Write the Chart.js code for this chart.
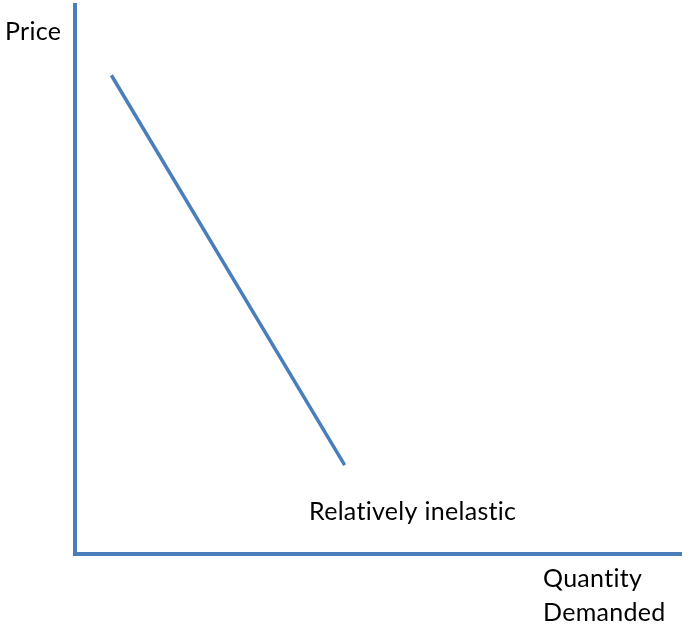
<!DOCTYPE html>
<html>
<head>
<meta charset="utf-8">
<script src="https://cdn.jsdelivr.net/npm/chart.js@4/dist/chart.umd.min.js"></script>
<style>
  html, body { margin: 0; padding: 0; background: #fff; }
  #wrap { width: 694px; height: 630px; }
</style>
</head>
<body>
<div id="wrap"><canvas id="demandChart" width="694" height="630"></canvas></div>
<script>
// demand curve end points (quantity, price) on a 0-10 scale
const quantity = [0.6, 4.45];
const price = [8.72, 1.62];
const curveLabel = "Relatively inelastic";
const yTitle = "Price";
const xTitle = ["Quantity", "Demanded"];

const blue = "#4a7ebb";
const font = "25px Lato, 'Open Sans', sans-serif";

// loose text labels placed like in the slide
const textLabels = {
    id: "textLabels",
    afterDraw(chart) {
        const ctx = chart.ctx;
        ctx.save();
        ctx.font = font;
        ctx.letterSpacing = "0.3px"; // no "ti" ligature
        ctx.fillStyle = "#000";
        ctx.textBaseline = "alphabetic";
        ctx.fillText(yTitle, 5, 40);
        ctx.fillText(curveLabel, 309, 520);
        ctx.fillText(xTitle[0], 543, 587);
        ctx.fillText(xTitle[1], 543, 621);
        ctx.restore();
    },
};

const ctx = document.getElementById("demandChart").getContext("2d");
new Chart(ctx, {
    type: "scatter",
    data: {
        datasets: [
            {
                label: curveLabel,
                data: quantity.map((q, i) => ({ x: q, y: price[i] })),
                showLine: true,
                borderColor: blue,
                borderWidth: 3.5,
                pointRadius: 0,
            },
        ],
    },
    options: {
        responsive: false,
        animation: false,
        layout: { padding: { left: 75, top: 5, right: 13, bottom: 76 } },
        plugins: { legend: { display: false }, tooltip: { enabled: false } },
        scales: {
            x: {
                min: 0,
                max: 10,
                ticks: { display: false },
                grid: { display: false, drawTicks: false },
                border: { display: true, color: blue, width: 4 },
            },
            y: {
                min: 0,
                max: 10,
                ticks: { display: false },
                grid: { display: false, drawTicks: false },
                border: { display: true, color: blue, width: 4 },
            },
        },
    },
    plugins: [textLabels],
});
</script>
</body>
</html>
